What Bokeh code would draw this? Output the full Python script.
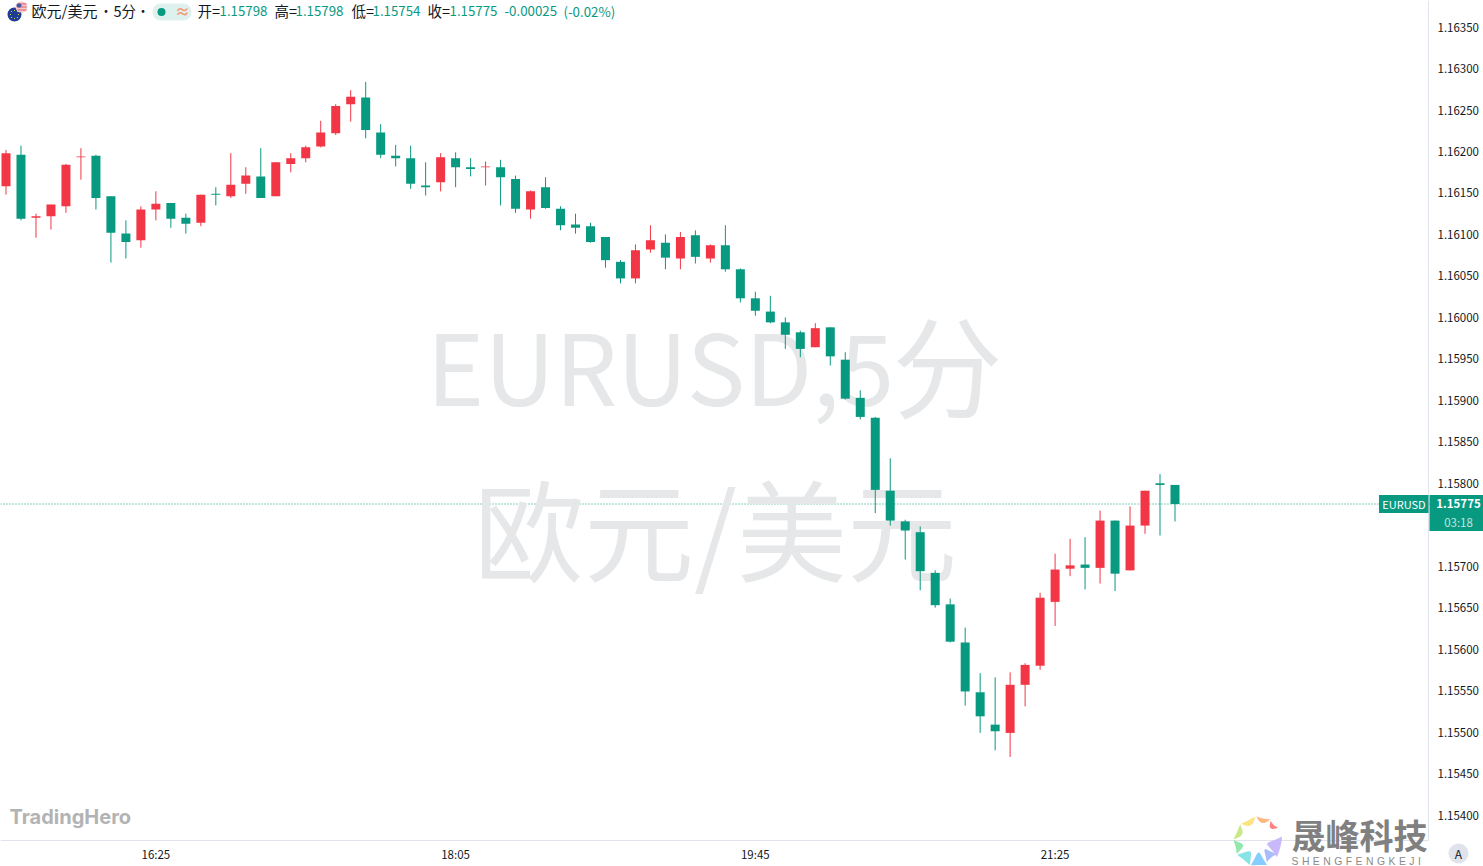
import numpy as np
from bokeh.plotting import figure
from bokeh.models import (BoxAnnotation, ColumnDataSource, FixedTicker, Label, LinearAxis,
                          NumeralTickFormatter, PolyAnnotation, Range1d)
from bokeh.embed import file_html
from bokeh.resources import INLINE

# ---- data: 5-minute EURUSD candles
opens = [1.16158,1.16196,1.16120,1.16122,1.16134,1.16193,1.16195,1.16146,1.16101,1.16093,
         1.16130,1.16138,1.16120,1.16114,1.16149,1.16146,1.16161,1.16170,1.16146,1.16185,
         1.16192,1.16206,1.16222,1.16257,1.16265,1.16223,1.16195,1.16192,1.16159,1.16163,
         1.16192,1.16181,1.16181,1.16181,1.16167,1.16130,1.16157,1.16131,1.16112,1.16110,
         1.16097,1.16067,1.16047,1.16082,1.16090,1.16071,1.16099,1.16071,1.16087,1.16058,
         1.16023,1.16007,1.15994,1.15982,1.15964,1.15988,1.15949,1.15903,1.15879,1.15791,
         1.15754,1.15741,1.15692,1.15654,1.15608,1.15548,1.15509,1.15499,1.15557,1.15580,
         1.15657,1.15697,1.15702,1.15698,1.15755,1.15695,1.15749,1.15800,1.15798]
highs = [1.16202,1.16207,1.16125,1.16136,1.16185,1.16204,1.16196,1.16146,1.16117,1.16134,
         1.16152,1.16138,1.16125,1.16148,1.16157,1.16198,1.16181,1.16204,1.16187,1.16198,
         1.16207,1.16237,1.16257,1.16274,1.16284,1.16233,1.16208,1.16207,1.16187,1.16198,
         1.16199,1.16192,1.16188,1.16190,1.16171,1.16153,1.16169,1.16134,1.16125,1.16114,
         1.16097,1.16069,1.16088,1.16111,1.16100,1.16103,1.16105,1.16088,1.16111,1.16059,
         1.16031,1.16026,1.16000,1.15984,1.15993,1.15988,1.15958,1.15912,1.15880,1.15830,
         1.15756,1.15748,1.15695,1.15661,1.15626,1.15571,1.15566,1.15572,1.15583,1.15668,
         1.15715,1.15733,1.15735,1.15767,1.15755,1.15772,1.15791,1.15811,1.15798]
lows = [1.16148,1.16117,1.16096,1.16106,1.16126,1.16166,1.16130,1.16066,1.16071,1.16084,
        1.16117,1.16108,1.16101,1.16110,1.16135,1.16144,1.16149,1.16144,1.16146,1.16175,
        1.16187,1.16205,1.16220,1.16236,1.16216,1.16192,1.16182,1.16155,1.16147,1.16152,
        1.16157,1.16170,1.16159,1.16135,1.16126,1.16119,1.16131,1.16105,1.16101,1.16090,
        1.16060,1.16041,1.16041,1.16078,1.16058,1.16058,1.16065,1.16066,1.16055,1.16018,
        1.16002,1.15993,1.15962,1.15952,1.15964,1.15942,1.15901,1.15877,1.15764,1.15749,
        1.15708,1.15671,1.15650,1.15608,1.15532,1.15499,1.15478,1.15470,1.15531,1.15575,
        1.15628,1.15688,1.15672,1.15679,1.15670,1.15695,1.15739,1.15737,1.15754]
closes = [1.16198,1.16119,1.16122,1.16136,1.16184,1.16194,1.16144,1.16102,1.16091,1.16130,
          1.16137,1.16119,1.16113,1.16148,1.16148,1.16160,1.16171,1.16144,1.16187,1.16192,
          1.16205,1.16223,1.16255,1.16266,1.16226,1.16196,1.16192,1.16161,1.16157,1.16193,
          1.16181,1.16179,1.16182,1.16169,1.16131,1.16152,1.16132,1.16111,1.16108,1.16091,
          1.16069,1.16047,1.16081,1.16093,1.16072,1.16097,1.16073,1.16087,1.16058,1.16023,
          1.16008,1.15994,1.15979,1.15962,1.15987,1.15953,1.15902,1.15880,1.15792,1.15755,
          1.15743,1.15694,1.15653,1.15609,1.15549,1.15519,1.15501,1.15557,1.15581,1.15662,
          1.15696,1.15701,1.15698,1.15755,1.15691,1.15749,1.15791,1.15798,1.15775]
time_ticks = [10, 30, 50, 70]
time_labels = ["16:25", "18:05", "19:45", "21:25"]
price_ticks = [1.1540,1.1545,1.1550,1.1555,1.1560,1.1565,1.1570,1.1575,1.1580,1.1585,
               1.1590,1.1595,1.1600,1.1605,1.1610,1.1615,1.1620,1.1625,1.1630,1.1635]
last_price = 1.15775

UP = "#f23645"; DOWN = "#089981"; AXIS = "#e0e3eb"; INK = "#131722"
CJK = "Noto Sans CJK SC"

idx = np.arange(len(opens))
o, h, l, c = map(np.array, (opens, highs, lows, closes))
src = ColumnDataSource(dict(x=idx, o=o, h=h, l=l, c=c,
                            top=np.maximum(o, c), bottom=np.minimum(o, c),
                            color=[UP if a > b else DOWN for a, b in zip(c, o)]))

X_START, X_END, X_AXIS_AT = -0.367, 98.585, 94.916
Y_START, Y_END, Y_AXIS_AT = 1.15337932, 1.16382077, 1.15369277

p = figure(width=1483, height=866, output_backend="svg", toolbar_location=None,
           x_range=Range1d(X_START, X_END), y_range=Range1d(Y_START, Y_END),
           x_axis_location=None, y_axis_location=None, min_border=0, margin=(0, 0, 0, 0),
           background_fill_color="white", border_fill_color="white", outline_line_color=None)
p.grid.visible = False

xaxis = LinearAxis(fixed_location=Y_AXIS_AT, bounds=(X_START, X_AXIS_AT),
                   ticker=FixedTicker(ticks=time_ticks),
                   major_label_overrides=dict(zip(time_ticks, time_labels)), major_label_standoff=5)
yaxis = LinearAxis(fixed_location=X_AXIS_AT, bounds=(Y_AXIS_AT, Y_END),
                   ticker=FixedTicker(ticks=price_ticks),
                   formatter=NumeralTickFormatter(format="0.00000"), major_label_standoff=9)
for ax in (xaxis, yaxis):
    ax.axis_line_color = AXIS
    ax.axis_line_width = 1
    ax.major_tick_line_color = None
    ax.minor_tick_line_color = None
    ax.major_tick_out = 0
    ax.major_tick_in = 0
    ax.minor_tick_out = 0
    ax.minor_tick_in = 0
    ax.major_label_text_color = INK
    ax.major_label_text_font = CJK
    ax.major_label_text_font_size = "11.5px"
p.add_layout(xaxis, "below")
p.add_layout(yaxis, "right")


def text(x, y, s, color=INK, size=13, font=CJK, style="normal", align="left", level="annotation"):
    p.add_layout(Label(x=x, y=y, x_units="canvas", y_units="canvas", text=s, text_color=color,
                       text_font_size=f"{size}px", text_font=font, text_font_style=style,
                       text_align=align, text_baseline="middle", level=level))


def box(x0, x1, y0, y1, color, radius=0, alpha=1.0):
    p.add_layout(BoxAnnotation(left=x0, right=x1, top=y0, bottom=y1, left_units="canvas",
                               right_units="canvas", top_units="canvas", bottom_units="canvas",
                               fill_color=color, fill_alpha=alpha, line_color=None,
                               border_radius=radius, level="annotation"))


# watermarks
WM = "#e6e7e9"
text(426, 362, "EURUSD,5", WM, 98, level="underlay")
text(892, 361, "分", WM, 110, level="underlay")
text(715, 525, "欧元/美元", WM, 110, level="underlay", align="center")
text(9, 816, "TradingHero", "#b2b3b5", 20, font="Inter", style="bold", level="underlay")

p.line([X_START, X_END], [last_price, last_price], line_color=DOWN, line_width=1,
       line_dash="1 2", level="underlay")

p.segment("x", "h", "x", "l", source=src, line_color="color", line_width=1)
p.vbar("x", 0.6005, "top", "bottom", source=src, fill_color="color", line_color=None)

# legend strip
box(7, 21, 7, 21, "#1d3e8f", 7)
for dx, dy in [(-4, 0), (4, 0), (0, -4), (0, 4), (-3, -3), (3, -3), (-3, 3), (3, 3)]:
    box(13.5 + dx, 14.5 + dx, 13.5 + dy, 14.5 + dy, "#e9c84a")
box(15, 27, 1, 12, "#f2c9cc", 6)
for yy in (3, 6, 9):
    box(17, 26, yy, yy + 1, "#e0606a")
box(16, 21, 3, 7, "#3c5aa6", 2)
text(31, 10, "欧元/美元", size=15)
text(99, 10, "•", size=13)
text(113, 10, "5分", size=14.5)
text(136, 10, "•", size=13)
box(152, 191, 3, 20, "#dff1ee", 8)
box(157, 165, 7.5, 15.5, DOWN, 4)
text(182, 10, "≈", "#f49a76", 15, style="bold", align="center")
legend_labels = [(197, "开="), (274, "高="), (351, "低="), (427, "收=")]
legend_values = [(219, "1.15798"), (295, "1.15798"), (372, "1.15754"), (449, "1.15775"),
                 (504, "-0.00025"), (563, "(-0.02%)")]
for x, s in legend_labels:
    text(x, 10, s, size=14.5)
for x, s in legend_values:
    text(x, 10.5, s, DOWN, 13.3)

# price tag
box(1378.5, 1428, 494.5, 512.5, DOWN)
box(1429, 1483, 494.5, 512.5, DOWN)
box(1429, 1483, 512.5, 530.5, DOWN)
text(1403.5, 503, "EURUSD", "white", 11, align="center")
text(1458, 503, "1.15775", "white", 11.5, style="bold", align="center")
text(1458, 521, "03:18", "#c4e6df", 11.5, align="center")

# scale mode badge
box(1448, 1468, 843, 863, AXIS, 10)
text(1458, 853, "A", INK, 12, align="center")

# brand mark
cx, cy = 1258, 841
bands = [(60, 35, 24, 18, "#ff7b7b"), (95, 62, 25, 19, "#ffb37a"), (135, 97, 25, 18, "#fde27a"),
         (175, 137, 25, 18, "#c5e87e"), (210, 177, 25, 16, "#8ee6a8"), (250, 212, 25, 13, "#7fe3e6"),
         (290, 252, 25, 11, "#7fcbff"), (325, 292, 22, 10, "#a5b8fb"), (12, -40, 24, 9, "#c6b5fa")]
for a0, a1, r0, r1, col in bands:
    t = np.radians(np.linspace(a0, a1, 20))
    u = np.linspace(0, 1, 20)
    ro = r0 - 1.5 * np.sin(np.pi * u)
    ri = r1 + (r0 - r1) * np.abs(2 * u - 1) ** 2.5
    xs = np.concatenate([cx + ro * np.cos(t), (cx + ri * np.cos(t))[::-1]])
    ys = np.concatenate([cy - ro * np.sin(t), (cy - ri * np.sin(t))[::-1]])
    p.add_layout(PolyAnnotation(xs=xs.tolist(), ys=ys.tolist(), xs_units="canvas", ys_units="canvas",
                                fill_color=col, fill_alpha=0.95, line_color=None, level="annotation"))
text(1291, 834, "晟峰科技", "#808080", 34, style="bold")
text(1291, 861, "\u2004".join("SHENGFENGKEJI"), "#8a8a8a", 10.4, font="Liberation Sans")

open("out.html", "w").write(file_html(p, INLINE))
